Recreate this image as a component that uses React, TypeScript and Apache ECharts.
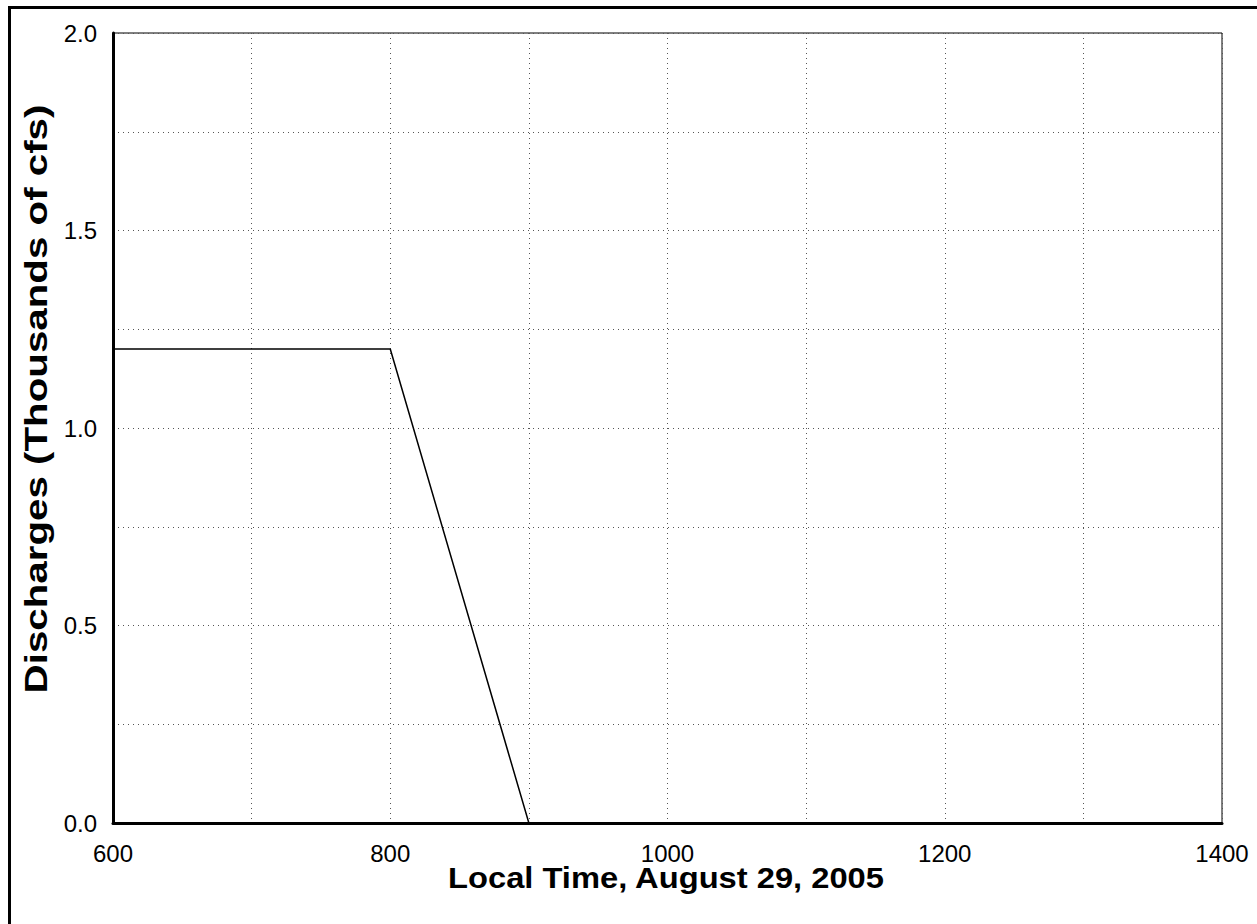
import React, { useEffect, useRef } from "react";
import * as echarts from "echarts";

const timeValues = [600, 800, 900];
const dischargeValues = [1.2, 1.2, 0];
const xTitle = "Local Time, August 29, 2005";
const yTitle = "Discharges (Thousands of cfs)";

export default function App() {
  const ref = useRef<HTMLDivElement>(null);
  useEffect(() => {
    if (!ref.current) return;
    const chart = echarts.init(ref.current, null, { renderer: "svg" });
    const font = "'Liberation Sans', Arial, sans-serif";
    chart.setOption({
      animation: false,
      backgroundColor: "#ffffff",
      grid: {
        left: 113,
        right: 35,
        top: 33,
        bottom: 101,
        show: true,
        borderColor: "#000",
        borderWidth: 1,
        containLabel: false,
      },
      graphic: [
        {
          type: "rect",
          shape: { x: 9.5, y: 7.5, width: 1270, height: 940 },
          style: { fill: "none", stroke: "#000", lineWidth: 3 },
          silent: true,
          z: 100,
        },
        {
          type: "text",
          x: 666,
          y: 878,
          scaleX: 1.09,
          style: {
            text: xTitle,
            fontFamily: font,
            fontWeight: "bold",
            fontSize: 30,
            fill: "#000",
            align: "center",
            verticalAlign: "middle",
          },
          silent: true,
        },
        {
          type: "text",
          x: 36,
          y: 399,
          rotation: Math.PI / 2,
          scaleX: 1.26,
          style: {
            text: yTitle,
            fontFamily: font,
            fontWeight: "bold",
            fontSize: 32,
            fill: "#000",
            align: "center",
            verticalAlign: "middle",
          },
          silent: true,
        },
      ],
      xAxis: {
        type: "value",
        min: 600,
        max: 1400,
        interval: 100,
        axisLine: { show: true, onZero: false, lineStyle: { color: "#000", width: 3 } },
        axisTick: { show: false },
        axisLabel: {
          fontFamily: font,
          fontSize: 24,
          color: "#000",
          margin: 18,
          formatter: (v: number) => (v % 200 === 0 ? String(v) : ""),
        },
        splitLine: { show: true, lineStyle: { color: "#555", type: [1, 4], width: 1 } },
      },
      yAxis: {
        type: "value",
        min: 0,
        max: 2,
        interval: 0.25,
        axisLine: { show: true, onZero: false, lineStyle: { color: "#000", width: 3 } },
        axisTick: { show: false },
        axisLabel: {
          fontFamily: font,
          fontSize: 24,
          color: "#000",
          margin: 16,
          verticalAlign: "middle",
          padding: [6, 0, 0, 0],
          formatter: (v: number) => (Math.abs((v * 2) % 1) < 1e-9 ? v.toFixed(1) : ""),
        },
        splitLine: { show: true, lineStyle: { color: "#555", type: [1, 4], width: 1 } },
      },
      series: [
        {
          type: "line",
          data: timeValues.map((t, i) => [t, dischargeValues[i]]),
          symbol: "none",
          lineStyle: { color: "#000", width: 1.5 },
        },
      ],
    });
    return () => chart.dispose();
  }, []);
  return (
    <div
      ref={ref}
      style={{ position: "absolute", left: 0, top: 0, width: 1257, height: 924 }}
    />
  );
}
